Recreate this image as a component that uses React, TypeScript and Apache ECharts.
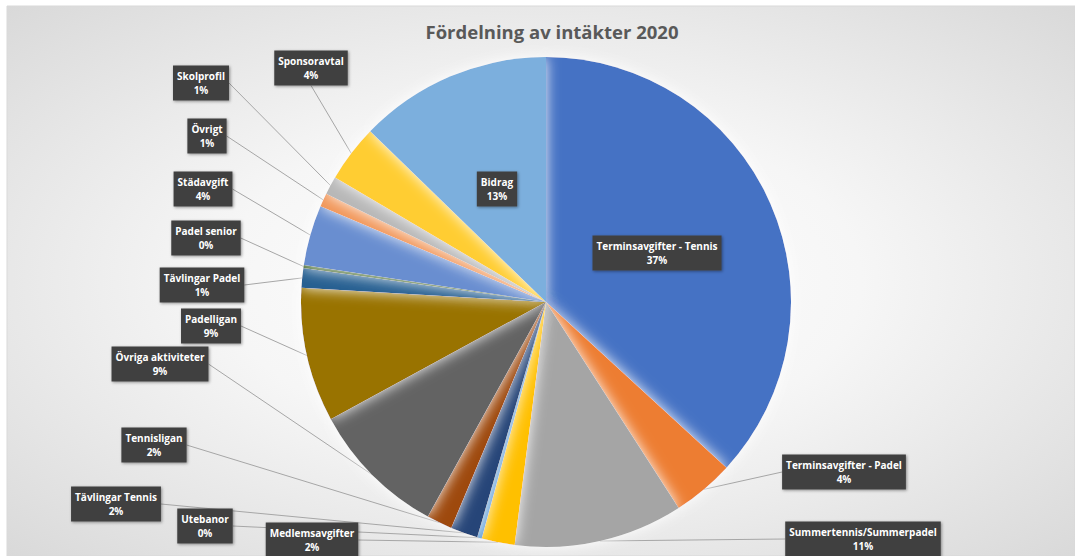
import React, { useEffect, useRef } from "react";
import * as echarts from "echarts";

const categories = [
  "Terminsavgifter - Tennis",
  "Terminsavgifter - Padel",
  "Summertennis/Summerpadel",
  "Medlemsavgifter",
  "Utebanor",
  "Tävlingar Tennis",
  "Tennisligan",
  "Övriga aktiviteter",
  "Padelligan",
  "Tävlingar Padel",
  "Padel senior",
  "Städavgift",
  "Övrigt",
  "Skolprofil",
  "Sponsoravtal",
  "Bidrag",
];

const values = [37.0, 4.1, 11.2, 2.2, 0.3, 1.8, 1.7, 9.1, 8.9, 1.3, 0.2, 4.0, 0.9, 1.2, 3.8, 12.8];

const colors = [
  "#4472C4", "#ED7D31", "#A5A5A5", "#FFC000", "#5B9BD5", "#264478",
  "#9E480E", "#636363", "#997300", "#255E91", "#43682B", "#698ED0",
  "#F1975A", "#B7B7B7", "#FFCD33", "#7CAFDD",
];

const insideLabels = [0, 15];

// label box centres (layout only)
const labelX = [657, 844, 863, 312, 205, 116, 154, 160, 211, 202, 206, 203, 207, 201, 311, 497];
const labelY = [253, 472, 539, 540, 526, 504, 445, 364, 326, 285, 238, 189, 136, 83, 68, 189];

export default function App() {
  const ref = useRef<HTMLDivElement>(null);
  useEffect(() => {
    if (!ref.current) return;
    const chart = echarts.init(ref.current, null, { renderer: "svg" });
    const data = categories.map((name, i) => ({
      name,
      value: values[i],
      itemStyle: { color: colors[i] },
      labelLine: { show: insideLabels.indexOf(i) < 0 },
    }));
    chart.setOption({
      animation: false,
      graphic: [
        {
          type: "rect",
          z: -10,
          silent: true,
          shape: { x: 7, y: 6, width: 1068, height: 550 },
          style: {
            fill: new echarts.graphic.RadialGradient(0.5, 0.5, 1.0, [
              { offset: 0, color: "#ffffff" },
              { offset: 0.3, color: "#f6f6f6" },
              { offset: 1, color: "#c4c4c4" },
            ]),
            stroke: "#d9d9d9",
            lineWidth: 1,
          },
        },
      ],
      title: {
        text: "Fördelning av intäkter 2020",
        left: 547,
        textAlign: "center",
        top: 17,
        textStyle: {
          fontFamily: "Open Sans",
          fontSize: 18.5,
          fontWeight: "bold",
          color: "#595959",
        },
      },
      series: [
        {
          type: "pie",
          center: [546, 302],
          radius: 245,
          startAngle: 90,
          clockwise: true,
          avoidLabelOverlap: false,
          data,
          itemStyle: {
            borderWidth: 0,
            shadowBlur: 14,
            shadowColor: "rgba(255,255,255,0.95)",
          },
          label: {
            show: true,
            position: "outside",
            formatter: (p: any) => p.name + "\n" + Math.round(p.percent) + "%",
            fontFamily: "Open Sans",
            fontSize: 10,
            fontWeight: "bold",
            color: "#ffffff",
            lineHeight: 14,
            align: "center",
            backgroundColor: "#404040",
            padding: [4, 4, 3, 4],
            shadowBlur: 3,
            shadowColor: "rgba(0,0,0,0.4)",
            shadowOffsetX: 1,
            shadowOffsetY: 1,
          },
          labelLine: {
            show: true,
            length: 4,
            length2: 0,
            smooth: false,
            lineStyle: { color: "#a6a6a6", width: 1 },
          },
          labelLayout: (params: any) => {
            const i = params.dataIndex;
            return {
              x: labelX[i],
              y: labelY[i],
              align: "center",
              verticalAlign: "middle",
              hideOverlap: false,
            };
          },
        },
      ],
    });
    return () => chart.dispose();
  }, []);
  return (
    <div
      ref={ref}
      style={{ position: "absolute", left: 0, top: 0, width: 1075, height: 556, background: "#ffffff" }}
    />
  );
}
